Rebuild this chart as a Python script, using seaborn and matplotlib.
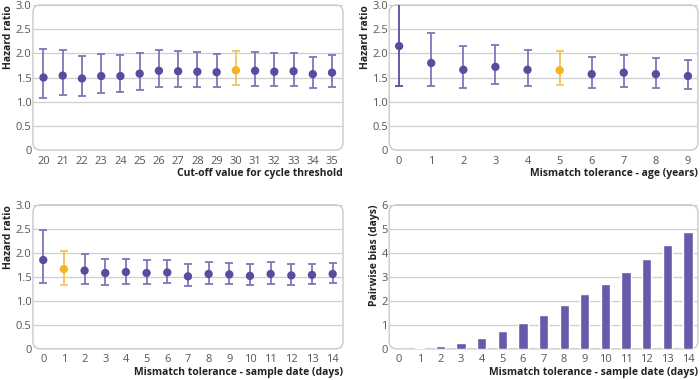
import seaborn as sns
import matplotlib.pyplot as plt
import numpy as np
from matplotlib.patches import FancyBboxPatch

# cut-off value for cycle threshold
ct_x = [20, 21, 22, 23, 24, 25, 26, 27, 28, 29, 30, 31, 32, 33, 34, 35]
ct_hr = [1.50, 1.54, 1.48, 1.53, 1.53, 1.58, 1.64, 1.63, 1.62, 1.61, 1.65, 1.64, 1.62, 1.63, 1.57, 1.60]
ct_lo = [1.08, 1.14, 1.12, 1.18, 1.20, 1.24, 1.30, 1.30, 1.30, 1.30, 1.34, 1.33, 1.32, 1.33, 1.28, 1.31]
ct_hi = [2.08, 2.07, 1.94, 1.98, 1.96, 2.01, 2.06, 2.04, 2.02, 1.99, 2.04, 2.02, 2.00, 2.00, 1.93, 1.96]
ct_ref = 30

# mismatch tolerance - age
age_x = [0, 1, 2, 3, 4, 5, 6, 7, 8, 9]
age_hr = [2.15, 1.80, 1.66, 1.72, 1.66, 1.65, 1.57, 1.60, 1.57, 1.53]
age_lo = [1.32, 1.33, 1.28, 1.36, 1.33, 1.34, 1.29, 1.31, 1.29, 1.26]
age_hi = [3.40, 2.42, 2.16, 2.18, 2.07, 2.04, 1.93, 1.96, 1.91, 1.86]
age_ref = 5

# mismatch tolerance - sample date
sd_x = [0, 1, 2, 3, 4, 5, 6, 7, 8, 9, 10, 11, 12, 13, 14]
sd_hr = [1.85, 1.66, 1.63, 1.58, 1.60, 1.58, 1.59, 1.51, 1.56, 1.55, 1.52, 1.56, 1.53, 1.54, 1.56]
sd_lo = [1.38, 1.34, 1.36, 1.33, 1.36, 1.35, 1.37, 1.30, 1.35, 1.35, 1.33, 1.36, 1.34, 1.35, 1.37]
sd_hi = [2.47, 2.04, 1.98, 1.88, 1.88, 1.85, 1.85, 1.76, 1.80, 1.79, 1.76, 1.80, 1.76, 1.76, 1.78]
sd_ref = 1

# pairwise bias
bias = [0.01, 0.03, 0.12, 0.26, 0.47, 0.73, 1.06, 1.42, 1.83, 2.27, 2.72, 3.22, 3.76, 4.31, 4.86]

PURPLE = '#5b4b9f'
PURPLE_LINE = '#7f75b8'
ORANGE = '#f5b324'
ORANGE_LINE = '#f3c35e'
BAR = '#6a58aa'
GRID = '#cfcfcf'
FRAME = '#c9c9c9'
TICK = '#555555'

sns.set_style('white')
plt.rcParams['font.family'] = ['Open Sans', 'DejaVu Sans']

fig = plt.figure(figsize=(7, 3.8), dpi=100)
ax1 = fig.add_axes([0.047, 0.605, 0.443, 0.382])
ax2 = fig.add_axes([0.556, 0.605, 0.441, 0.382])
ax3 = fig.add_axes([0.047, 0.082, 0.443, 0.379])
ax4 = fig.add_axes([0.556, 0.082, 0.441, 0.379])


def style_axis(ax, yticks, ylabels, xlabel, ylabel):
    for s in ax.spines.values():
        s.set_visible(False)
    ax.set_yticks(yticks)
    ax.set_yticklabels(ylabels)
    ax.tick_params(axis='y', length=0, labelsize=8, labelcolor=TICK, pad=1)
    ax.tick_params(axis='x', length=3, width=0.8, color=FRAME, labelsize=8,
                   labelcolor=TICK, pad=1, direction='out')
    ax.grid(axis='y', color=GRID, linewidth=0.9)
    ax.grid(axis='x', visible=False)
    ax.set_axisbelow(True)
    ax.set_xlabel(xlabel, fontsize=7.5, fontweight='bold', color='#222222', loc='right', labelpad=1)
    ax.set_ylabel(ylabel, fontsize=7.5, fontweight='bold', color='#222222', loc='top', labelpad=1)
    bb = ax.get_position()
    asp = (bb.width * 7) / (bb.height * 3.8)
    frame = FancyBboxPatch((0, 0), 1, 1, boxstyle='round,pad=0,rounding_size=0.025',
                           mutation_aspect=asp, transform=ax.transAxes, fill=False,
                           edgecolor=FRAME, linewidth=1.0, clip_on=False, zorder=0.5)
    ax.add_patch(frame)


def hr_panel(ax, x, hr, lo, hi, ref, xlim, xlabel, dark_first=False):
    x = np.array(x)
    hr = np.array(hr)
    lo = np.array(lo)
    hi = np.array(hi)
    for i in range(len(x)):
        if x[i] == ref:
            lc = ORANGE_LINE
        elif dark_first and i == 0:
            lc = PURPLE
        else:
            lc = PURPLE_LINE
        ax.errorbar(x[i], hr[i], yerr=[[hr[i] - lo[i]], [hi[i] - hr[i]]], fmt='none',
                    ecolor=lc, elinewidth=1.3, capsize=3, capthick=1.3, zorder=2)
    cols = ['ref' if v == ref else 'other' for v in x]
    sns.scatterplot(x=x, y=hr, hue=cols, palette={'ref': ORANGE, 'other': PURPLE},
                    s=36, edgecolor='none', legend=False, ax=ax, zorder=3)
    ax.set_xticks(x)
    ax.set_xticklabels([str(v) for v in x])
    ax.set_xlim(*xlim)
    ax.set_ylim(0, 3.0)
    style_axis(ax, [0, 0.5, 1.0, 1.5, 2.0, 2.5, 3.0],
               ['0', '0.5', '1.0', '1.5', '2.0', '2.5', '3.0'], xlabel, 'Hazard ratio')


hr_panel(ax1, ct_x, ct_hr, ct_lo, ct_hi, ct_ref, (19.45, 35.57), 'Cut-off value for cycle threshold')
hr_panel(ax2, age_x, age_hr, age_lo, age_hi, age_ref, (-0.31, 9.31), 'Mismatch tolerance - age (years)',
         dark_first=True)
hr_panel(ax3, sd_x, sd_hr, sd_lo, sd_hi, sd_ref, (-0.5, 14.5), 'Mismatch tolerance - sample date (days)')

sns.barplot(x=sd_x, y=bias, color=BAR, saturation=1, width=0.45, ax=ax4, zorder=2)
ax4.set_xlim(-0.48, 14.48)
ax4.set_ylim(0, 6)
style_axis(ax4, [0, 1, 2, 3, 4, 5, 6], ['0', '1', '2', '3', '4', '5', '6'],
           'Mismatch tolerance - sample date (days)', 'Pairwise bias (days)')

fig.savefig('out.png', dpi=100, facecolor='white')
